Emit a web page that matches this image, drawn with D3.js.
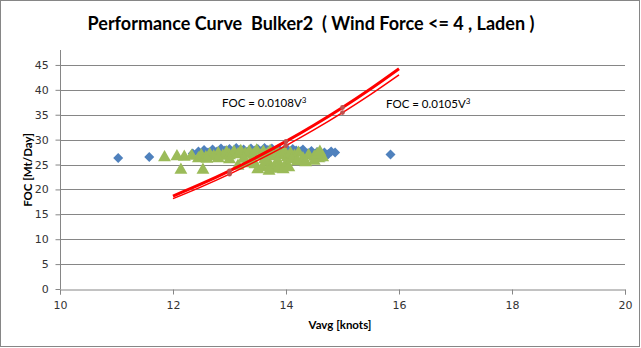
<!DOCTYPE html>
<html><head><meta charset="utf-8">
<script src="https://cdn.jsdelivr.net/npm/d3@7"></script>
<style>body{margin:0;background:#fff}svg{display:block}text{white-space:pre}</style>
</head><body>
<svg id="c" width="641" height="348"></svg>
<script>
const title = "Performance Curve  Bulker2  ( Wind Force <= 4 , Laden )";
const xLabel = "Vavg [knots]";
const yLabel = "FOC [Mt/Day]";
const xTicks = [10, 12, 14, 16, 18, 20];
const yTicks = [0, 5, 10, 15, 20, 25, 30, 35, 40, 45];

// Blue diamonds (series 1)
const blueV = [11.03,11.58,12.35,12.45,12.55,12.62,12.7,12.78,12.85,12.92,13.0,13.05,13.12,13.18,13.25,13.3,13.38,13.45,13.5,13.55,13.62,13.68,13.75,13.8,13.88,13.95,14.0,14.05,14.12,14.18,14.25,14.3,14.38,14.45,14.5,14.55,14.62,14.68,14.75,14.8,14.87,14.7,15.85];
const blueF = [26.3,26.5,27.2,27.6,27.9,27.4,28.0,27.6,28.2,27.8,28.1,27.5,28.3,27.9,28.0,27.4,28.2,27.8,28.1,27.6,28.3,27.9,28.2,27.5,28.0,27.7,28.3,27.4,28.1,27.8,27.6,28.0,27.2,27.7,27.0,27.5,26.9,27.4,27.1,27.6,27.4,26.6,27.0];

// Green triangles (series 2)
const greenV = [11.85,12.07,12.2,12.33,12.45,12.5,12.58,12.65,12.72,12.8,12.88,12.95,13.0,13.08,13.15,13.2,13.28,13.35,13.42,13.48,13.55,13.6,13.67,13.72,13.78,13.85,13.9,13.97,14.02,14.08,14.15,14.22,14.3,14.4,14.5,14.58,14.65,
  12.14,12.53,13.15,13.3,13.45,13.5,13.58,13.65,13.72,13.8,13.88,13.95,14.0,14.05,13.4,13.62,13.85,14.1,13.25,14.5,14.55,14.6,14.35,14.2,13.0,12.8,12.6,13.7];
const greenF = [26.2,26.4,26.3,26.5,26.0,26.6,26.2,26.8,26.4,27.0,26.5,27.2,26.6,27.3,26.8,27.5,26.9,27.4,26.7,27.6,26.5,27.3,26.8,27.5,26.4,27.2,26.6,27.4,26.2,27.0,26.5,27.1,26.0,26.6,26.3,26.0,26.2,
  23.7,23.7,24.5,25.0,24.8,23.8,24.2,25.3,24.6,23.9,24.4,23.8,24.9,24.2,25.6,25.8,25.5,25.8,25.9,25.5,26.8,27.3,25.2,25.4,25.8,26.0,25.9,23.5];

// Trend curves
const fitV = [12, 12.5, 13, 13.5, 14, 14.5, 15, 15.5, 16];
const fitA = [18.66, 21.09, 23.73, 26.57, 29.64, 32.93, 36.45, 40.22, 44.24]; // FOC = 0.0108V^3
const fitB = [18.14, 20.51, 23.07, 25.84, 28.81, 32.01, 35.44, 39.10, 43.01]; // FOC = 0.0105V^3
const markV = [13, 14, 15];
const markA = [23.73, 29.64, 36.45];
const markB = [23.07, 28.81, 35.44];
const eqA = "FOC = 0.0108V";
const eqB = "FOC = 0.0105V";

const svg = d3.select("#c");
const L = 60, R = 625, T = 50, B = 289;
const x = d3.scaleLinear().domain([10, 20]).range([L, R]);
const y = d3.scaleLinear().domain([0, 48]).range([B, T]);

// outer border
svg.append("rect").attr("x", 0.5).attr("y", 0.5).attr("width", 639).attr("height", 346)
  .attr("fill", "#fff").attr("stroke", "#868686");

// grid
svg.append("g").selectAll("line").data(yTicks.filter(d => d > 0)).join("line")
  .attr("x1", L).attr("x2", R).attr("y1", d => Math.round(y(d)) + 0.5).attr("y2", d => Math.round(y(d)) + 0.5)
  .attr("stroke", "#868686").attr("stroke-width", 1);

// axes
const xAxis = svg.append("g").attr("transform", `translate(0,${Math.round(B) + 0.5})`)
  .call(d3.axisBottom(x).tickValues(xTicks).tickSize(5).tickFormat(d3.format("d")));
const yAxis = svg.append("g").attr("transform", `translate(${L + 0.5},0)`)
  .call(d3.axisLeft(y).tickValues(yTicks).tickSize(5).tickFormat(d3.format("d")));
[xAxis, yAxis].forEach(g => {
  g.select(".domain").attr("stroke", "#868686");
  g.selectAll(".tick line").attr("stroke", "#868686");
  g.selectAll(".tick text").attr("fill", "#333").style("font-family", "DejaVu Sans, Verdana, sans-serif").style("font-size", "11px");
});
xAxis.selectAll(".tick text").attr("dy", "1.05em");
yAxis.selectAll(".tick text").attr("dx", "-0.35em");
yAxis.select(".domain").attr("d", `M0,${T}V${B}`);

// blue diamonds (rotated squares)
const dsym = d3.symbol().type(d3.symbolSquare).size(50);
svg.append("g").selectAll("path").data(blueV.map((v, i) => [v, blueF[i]])).join("path")
  .attr("d", dsym).attr("transform", d => `translate(${x(d[0])},${y(d[1])}) rotate(45)`)
  .attr("fill", "#4F81BD");

// green triangles
const tsym = d3.symbol().type(d3.symbolTriangle).size(72);
svg.append("g").selectAll("path").data(greenV.map((v, i) => [v, greenF[i]])).join("path")
  .attr("d", tsym).attr("transform", d => `translate(${x(d[0])},${y(d[1]) - 1})`)
  .attr("fill", "#9BBB59");

// curves
const line = d3.line().x(d => x(d[0])).y(d => y(d[1])).curve(d3.curveCatmullRom);
svg.append("path").datum(fitV.map((v, i) => [v, fitB[i]])).attr("d", line)
  .attr("fill", "none").attr("stroke", "#FF0000").attr("stroke-width", 1.5);
svg.append("path").datum(fitV.map((v, i) => [v, fitA[i]])).attr("d", line)
  .attr("fill", "none").attr("stroke", "#FF0000").attr("stroke-width", 3);
const msym = d3.symbol().type(d3.symbolCircle).size(18);
svg.append("g").selectAll("path").data(markV.map((v, i) => [v, markA[i]]).concat(markV.map((v, i) => [v, markB[i]]))).join("path")
  .attr("d", msym).attr("transform", d => `translate(${x(d[0])},${y(d[1])})`)
  .attr("fill", "#C0504D");

// equations
const eqFont = "Lato, 'Open Sans', sans-serif";
function eq(tx, ty, s) {
  const t = svg.append("text").attr("x", tx).attr("y", ty).attr("fill", "#000")
    .style("font-family", eqFont).style("font-size", "11.5px");
  t.append("tspan").text(s);
  t.append("tspan").attr("dy", -4).style("font-size", "8px").text("3");
}
eq(222, 107, eqA);
eq(386, 108, eqB);

// title & labels
svg.append("text").attr("x", 311).attr("y", 30).attr("text-anchor", "middle")
  .style("font-family", "Lato, sans-serif").style("font-weight", "bold").style("font-size", "18px")
  .attr("fill", "#000").text(title);
svg.append("text").attr("x", 340).attr("y", 329).attr("text-anchor", "middle")
  .style("font-family", "Lato, sans-serif").style("font-weight", "bold").style("font-size", "11.5px")
  .attr("fill", "#000").text(xLabel);
svg.append("text").attr("transform", "translate(32,170) rotate(-90)").attr("text-anchor", "middle")
  .style("font-family", "Lato, sans-serif").style("font-weight", "bold").style("font-size", "11.5px")
  .attr("fill", "#000").text(yLabel);
</script>
</body></html>
